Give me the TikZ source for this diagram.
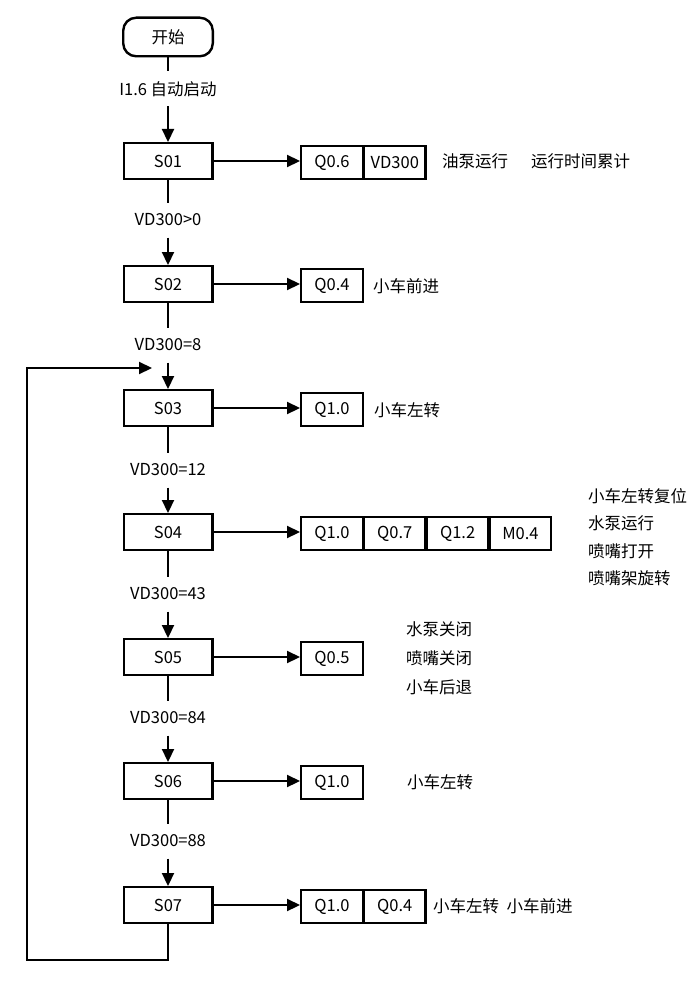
\documentclass[tikz,border=0pt]{standalone}
\usepackage{fontspec}
\setmainfont{Noto Sans CJK SC}
\usetikzlibrary{arrows.meta,positioning}
\begin{document}
\begin{tikzpicture} [
                    x=1pt, y=-1pt,
                    font=\fontsize{16.5}{20}\selectfont,
                    startbox/.style={draw, line width=2.4pt, rounded corners=13pt, minimum width=89.6pt, minimum height=38.6pt, inner sep=0pt},
                    stepbox/.style={draw, line width=2.4pt, minimum width=88.6pt, minimum height=35.6pt, inner sep=0pt},
                    outbox/.style={draw, line width=2.4pt, minimum width=61.6pt, minimum height=32.6pt, inner sep=0pt},
                    cond/.style={minimum height=35pt, inner sep=0pt, outer sep=0pt},
                    note/.style={anchor=west, inner sep=0pt},
                    link/.style={line width=2.2pt},
                    flow/.style={line width=2.2pt, -{Triangle[length=13pt,width=12pt]}},
                    node distance=-1.2pt
                ]
                \useasboundingbox (0,0) rectangle (693,987);
                \node [startbox] (start) at (168,37) {开始};
                \node [cond] (c00) at (168,89) {I1.6 自动启动};
                \node [stepbox] (s01) at (168,161) {S01};
                \node [cond] (c01) at (168,220) {VD300>0};
                \node [stepbox] (s02) at (168,284) {S02};
                \node [cond] (c02) at (168,345) {VD300=8};
                \node [stepbox] (s03) at (168,408) {S03};
                \node [cond] (c03) at (168,470) {VD300=12};
                \node [stepbox] (s04) at (168,532) {S04};
                \node [cond] (c04) at (168,594) {VD300=43};
                \node [stepbox] (s05) at (168,657) {S05};
                \node [cond] (c05) at (168,718) {VD300=84};
                \node [stepbox] (s06) at (168,781) {S06};
                \node [cond] (c06) at (168,841) {VD300=88};
                \node [stepbox] (s07) at (168,905) {S07};

                \node [outbox] (q01a) at (332,162.5) {Q0.6};
                \node [outbox, right=of q01a] (q01b) {VD300};
                \node [outbox] (q02) at (332,285.5) {Q0.4};
                \node [outbox] (q03) at (332,409.5) {Q1.0};
                \node [outbox] (q04a) at (332,533.5) {Q1.0};
                \node [outbox, right=of q04a] (q04b) {Q0.7};
                \node [outbox, right=of q04b] (q04c) {Q1.2};
                \node [outbox, right=of q04c] (q04d) {M0.4};
                \node [outbox] (q05) at (332,658.5) {Q0.5};
                \node [outbox] (q06) at (332,782.5) {Q1.0};
                \node [outbox] (q07a) at (332,906.5) {Q1.0};
                \node [outbox, right=of q07a] (q07b) {Q0.4};

                \node [note] (t01a) at (442,161) {油泵运行};
                \node [note] (t01b) at (531,161) {运行时间累计};
                \node [note] (t02) at (373,286) {小车前进};
                \node [note] (t03) at (374,410) {小车左转};
                \node [note] (t04a) at (588,496) {小车左转复位};
                \node [note] (t04b) at (588,523) {水泵运行};
                \node [note] (t04c) at (588,551) {喷嘴打开};
                \node [note] (t04d) at (588,578) {喷嘴架旋转};
                \node [note] (t05a) at (406,629) {水泵关闭};
                \node [note] (t05b) at (406,658) {喷嘴关闭};
                \node [note] (t05c) at (406,687) {小车后退};
                \node [note] (t06) at (407,782) {小车左转};
                \node [note] (t07) at (433,906) {小车左转\hspace{0.45em}小车前进};

                \draw [link] (start) -- (c00);
                \draw [flow] (c00) -- (s01);
                \draw [link] (s01) -- (c01);
                \draw [flow] (c01) -- (s02);
                \draw [link] (s02) -- (c02);
                \draw [flow] (c02) -- (s03);
                \draw [link] (s03) -- (c03);
                \draw [flow] (c03) -- (s04);
                \draw [link] (s04) -- (c04);
                \draw [flow] (c04) -- (s05);
                \draw [link] (s05) -- (c05);
                \draw [flow] (c05) -- (s06);
                \draw [link] (s06) -- (c06);
                \draw [flow] (c06) -- (s07);

                \draw [flow] (s01.east) -- (s01.east -| q01a.west);
                \draw [flow] (s02.east) -- (s02.east -| q02.west);
                \draw [flow] (s03.east) -- (s03.east -| q03.west);
                \draw [flow] (s04.east) -- (s04.east -| q04a.west);
                \draw [flow] (s05.east) -- (s05.east -| q05.west);
                \draw [flow] (s06.east) -- (s06.east -| q06.west);
                \draw [flow] (s07.east) -- (s07.east -| q07a.west);

                \coordinate (loopin) at (152,368);
                \draw [flow] (s07.south) |- (27,960) |- (loopin);
                \end{tikzpicture}
\end{document}
